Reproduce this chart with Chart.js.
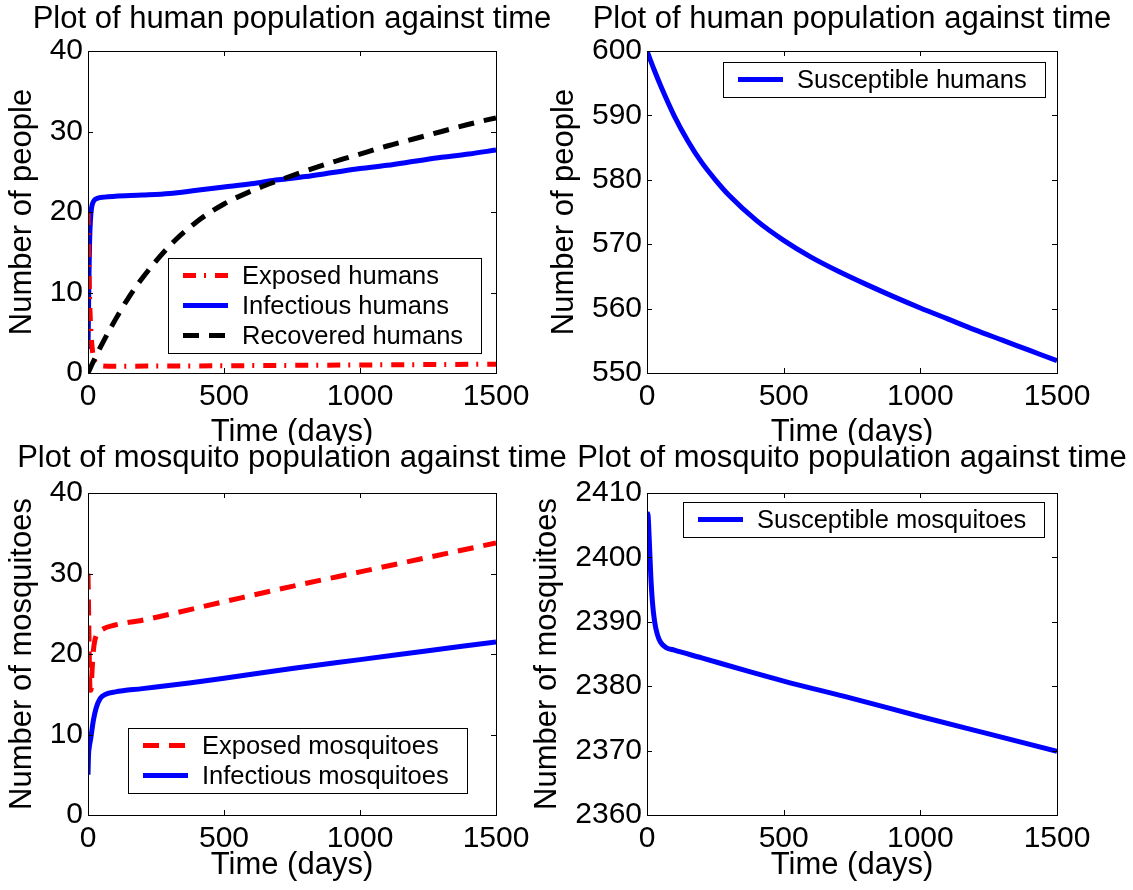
<!DOCTYPE html>
<html>
<head>
<meta charset="utf-8">
<title>Human and mosquito populations against time</title>
<script src="https://cdn.jsdelivr.net/npm/chart.js@4.4.1/dist/chart.umd.min.js"></script>
<style>
  html, body { margin: 0; padding: 0; background: #fff; }
  body { width: 1133px; height: 890px; position: relative; overflow: hidden; }
  canvas { position: absolute; }
</style>
</head>
<body>
<canvas id="humansEIR" width="566" height="445" style="left:0px;top:0px"></canvas>
<canvas id="humansS" width="603" height="445" style="left:530px;top:0px"></canvas>
<canvas id="mosqEI" width="566" height="445" style="left:0px;top:445px"></canvas>
<canvas id="mosqS" width="603" height="445" style="left:530px;top:445px"></canvas>
<script>
const FONT = '"Liberation Sans", Arial, Helvetica, sans-serif';

// --- values (time in days) ---
const timeTicks = [0, 500, 1000, 1500];

// humans: exposed / infectious / recovered
const humanTimeE = [0, 2, 4, 7, 10, 15, 20, 30, 50, 100, 500, 1000, 1500];
const humanExposed = [20, 16, 12, 8, 5.5, 3.2, 2.0, 1.2, 0.9, 0.85, 0.9, 1.0, 1.1];

const humanTimeI = [0, 2, 4, 6, 9, 13, 20, 35, 60, 100, 200, 300, 400, 500, 600, 700, 800, 900, 1000, 1100, 1200, 1300, 1400, 1500];
const humanInfectious = [3, 8, 13, 16.5, 19, 20.5, 21.3, 21.7, 21.85, 21.95, 22.1, 22.3, 22.7, 23.1, 23.5, 24.0, 24.4, 24.9, 25.4, 25.8, 26.3, 26.8, 27.2, 27.7];

const humanTimeR = [0, 25, 50, 100, 150, 200, 300, 400, 500, 600, 700, 800, 900, 1000, 1100, 1200, 1300, 1400, 1500];
const humanRecovered = [0, 1.8, 3.5, 6.6, 9.4, 11.8, 15.8, 18.8, 21.0, 22.6, 23.9, 25.1, 26.2, 27.2, 28.2, 29.1, 30.0, 30.9, 31.7];

// humans: susceptible
const humanTimeS = [0, 25, 50, 100, 150, 200, 250, 300, 400, 500, 600, 700, 800, 900, 1000, 1100, 1200, 1300, 1400, 1500];
const humanSusceptible = [600, 597.2, 594.6, 589.9, 586.0, 582.7, 580.0, 577.6, 573.7, 570.6, 568.0, 565.8, 563.8, 561.9, 560.1, 558.4, 556.7, 555.1, 553.5, 551.9];

// mosquitoes: exposed / infectious
const mosqTimeE = [0, 2, 4, 6, 8, 11, 15, 20, 30, 50, 100, 200, 500, 750, 1000, 1250, 1500];
const mosqExposed = [30, 26, 21, 17, 15.5, 15.5, 18, 20.5, 22.3, 23.0, 23.6, 24.2, 26.5, 28.4, 30.2, 32.0, 33.8];

const mosqTimeI = [0, 2, 5, 10, 20, 30, 45, 65, 100, 200, 372, 500, 750, 1000, 1250, 1500];
const mosqInfectious = [5, 7.5, 8.5, 9.5, 11.8, 13.3, 14.5, 15.0, 15.3, 15.7, 16.4, 17.0, 18.2, 19.3, 20.4, 21.5];

// mosquitoes: susceptible
const mosqTimeS = [0, 4, 8, 14, 20, 28, 38, 50, 70, 100, 200, 372, 500, 750, 1000, 1250, 1500];
const mosqSusceptible = [2407, 2406.5, 2403, 2397, 2393, 2390, 2388, 2386.8, 2386.0, 2385.6, 2384.4, 2382.3, 2380.8, 2378.1, 2375.3, 2372.6, 2369.9];

const points = (ts, vs) => ts.map((t, i) => ({ x: t, y: vs[i] }));

// title centred over the axes box
const panelTitle = {
  id: 'panelTitle',
  afterDraw(chart, args, opts) {
    const { ctx, chartArea } = chart;
    ctx.save();
    ctx.font = '31px ' + FONT;
    ctx.fillStyle = '#000';
    ctx.textAlign = 'center';
    ctx.textBaseline = 'alphabetic';
    ctx.fillText(opts.text, (chartArea.left + chartArea.right) / 2, opts.baseline);
    ctx.restore();
  }
};

// matlab style box with inward ticks on all sides
const matlabFrame = {
  id: 'matlabFrame',
  afterDatasetsDraw(chart) {
    const { ctx, chartArea: a, scales } = chart;
    const len = 5;
    ctx.save();
    ctx.strokeStyle = '#000';
    ctx.lineWidth = 1;
    ctx.beginPath();
    scales.x.ticks.forEach(t => {
      const px = Math.round(scales.x.getPixelForValue(t.value)) + 0.5;
      ctx.moveTo(px, a.bottom); ctx.lineTo(px, a.bottom - len);
      ctx.moveTo(px, a.top); ctx.lineTo(px, a.top + len);
    });
    scales.y.ticks.forEach(t => {
      const py = Math.round(scales.y.getPixelForValue(t.value)) + 0.5;
      ctx.moveTo(a.left, py); ctx.lineTo(a.left + len, py);
      ctx.moveTo(a.right, py); ctx.lineTo(a.right - len, py);
    });
    ctx.stroke();
    ctx.strokeRect(Math.round(a.left) + 0.5, Math.round(a.top) + 0.5,
      Math.round(a.right - a.left), Math.round(a.bottom - a.top));
    ctx.restore();
  }
};

// legend box inside the axes
const boxLegend = {
  id: 'boxLegend',
  afterDraw(chart, args, opts) {
    const ctx = chart.ctx;
    const sets = chart.data.datasets;
    ctx.save();
    ctx.font = '25.5px ' + FONT;
    const textW = Math.max(...sets.map(d => ctx.measureText(d.label).width));
    const w = Math.round(74 + textW + 18);
    const h = 35 + (sets.length - 1) * 30;
    const left = opts.left, top = opts.top;
    ctx.fillStyle = '#fff';
    ctx.fillRect(left, top, w, h);
    ctx.strokeStyle = '#000';
    ctx.lineWidth = 1;
    ctx.strokeRect(left + 0.5, top + 0.5, w, h);
    sets.forEach((d, i) => {
      const cy = top + 17.5 + i * 30;
      ctx.save();
      ctx.strokeStyle = d.borderColor;
      ctx.lineWidth = d.borderWidth;
      ctx.setLineDash(d.borderDash || []);
      ctx.beginPath();
      ctx.moveTo(left + 15, cy);
      ctx.lineTo(left + 60, cy);
      ctx.stroke();
      ctx.restore();
      ctx.fillStyle = '#000';
      ctx.textBaseline = 'middle';
      ctx.textAlign = 'left';
      ctx.fillText(d.label, left + 74, cy + 1);
    });
    ctx.restore();
  }
};

function line(label, data, color, dash, order) {
  return {
    label, data, order,
    borderColor: color,
    borderWidth: 5,
    borderDash: dash,
    borderJoinStyle: 'round',
    pointRadius: 0,
    fill: false,
    cubicInterpolationMode: 'monotone'
  };
}

function makeChart(id, cfg) {
  const tickFont = { family: FONT, size: 30 };
  const titleFont = { family: FONT, size: 31, lineHeight: 1 };
  return new Chart(document.getElementById(id), {
    type: 'line',
    data: { datasets: cfg.datasets },
    options: {
      responsive: false,
      animation: false,
      events: [],
      layout: { autoPadding: false, padding: { top: cfg.top, right: cfg.right, bottom: cfg.bottom, left: 0 } },
      scales: {
        x: {
          type: 'linear', min: 0, max: 1500,
          afterBuildTicks: s => { s.ticks = timeTicks.map(v => ({ value: v })); },
          grid: { display: false, drawTicks: false },
          border: { display: false },
          ticks: { font: tickFont, color: '#000', padding: 6, maxRotation: 0, autoSkip: false, callback: v => String(v) },
          title: { display: true, text: 'Time (days)', font: titleFont, color: '#000', padding: { top: 0, bottom: -3 } },
          afterFit: s => { s.height = cfg.xHeight; }
        },
        y: {
          type: 'linear', min: cfg.yMin, max: cfg.yMax,
          ticks: { stepSize: 10, font: tickFont, color: '#000', padding: 5, autoSkip: false, callback: v => String(v) },
          grid: { display: false, drawTicks: false },
          border: { display: false },
          title: { display: true, text: cfg.yTitle, font: titleFont, color: '#000', padding: { top: cfg.yTitlePad, bottom: 0 } },
          afterFit: s => { s.width = cfg.yWidth; }
        }
      },
      plugins: {
        legend: { display: false },
        tooltip: { enabled: false },
        panelTitle: { text: cfg.title, baseline: cfg.titleBaseline },
        boxLegend: cfg.legend
      }
    },
    plugins: [matlabFrame, panelTitle, boxLegend]
  });
}

makeChart('humansEIR', {
  title: 'Plot of human population against time', titleBaseline: 28,
  yTitle: 'Number of people', yTitlePad: 6.5,
  yMin: 0, yMax: 40,
  top: 51, right: 70, bottom: 0, xHeight: 72, yWidth: 88,
  legend: { left: 168, top: 258 },
  datasets: [
    line('Exposed humans', points(humanTimeE, humanExposed), '#ff0000', [13, 8, 2, 9], 1),
    line('Infectious humans', points(humanTimeI, humanInfectious), '#0000ff', [], 2),
    line('Recovered humans', points(humanTimeR, humanRecovered), '#000000', [16, 10], 0)
  ]
});

makeChart('humansS', {
  title: 'Plot of human population against time', titleBaseline: 28,
  yTitle: 'Number of people', yTitlePad: 18.5,
  yMin: 550, yMax: 600,
  top: 51, right: 76, bottom: 0, xHeight: 72, yWidth: 117,
  legend: { left: 193, top: 62 },
  datasets: [
    line('Susceptible humans', points(humanTimeS, humanSusceptible), '#0000ff', [], 1)
  ]
});

makeChart('mosqEI', {
  title: 'Plot of mosquito population against time', titleBaseline: 22,
  yTitle: 'Number of mosquitoes', yTitlePad: 6.5,
  yMin: 0, yMax: 40,
  top: 48, right: 70, bottom: 12, xHeight: 63, yWidth: 88,
  legend: { left: 128, top: 283 },
  datasets: [
    line('Exposed mosquitoes', points(mosqTimeE, mosqExposed), '#ff0000', [16, 10], 1),
    line('Infectious mosquitoes', points(mosqTimeI, mosqInfectious), '#0000ff', [], 2)
  ]
});

makeChart('mosqS', {
  title: 'Plot of mosquito population against time', titleBaseline: 22,
  yTitle: 'Number of mosquitoes', yTitlePad: 1.5,
  yMin: 2360, yMax: 2410,
  top: 48, right: 76, bottom: 12, xHeight: 63, yWidth: 117,
  legend: { left: 153, top: 57 },
  datasets: [
    line('Susceptible mosquitoes', points(mosqTimeS, mosqSusceptible), '#0000ff', [], 1)
  ]
});
</script>
</body>
</html>
